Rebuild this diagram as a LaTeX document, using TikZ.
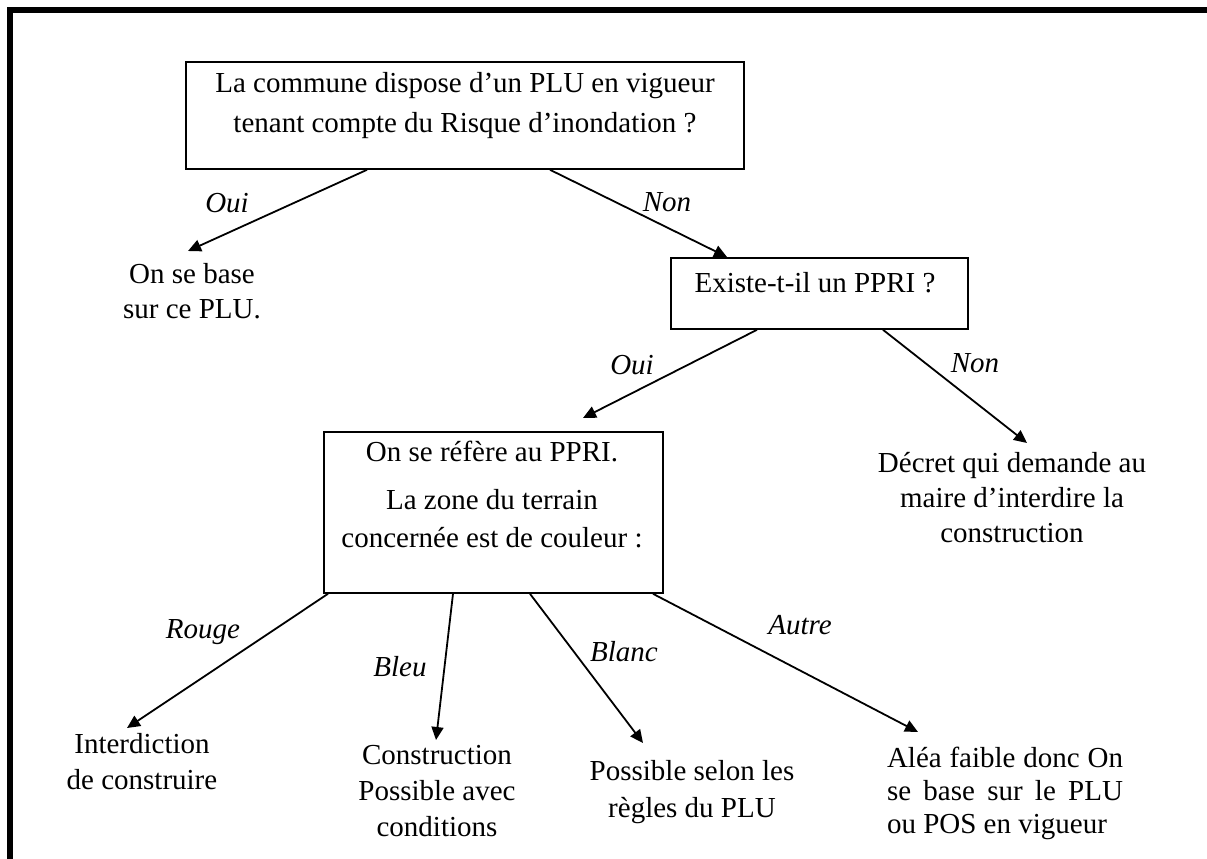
\documentclass[tikz,border=0pt]{standalone}
\usepackage{fontspec}
\setmainfont{Liberation Serif}
\usetikzlibrary{arrows.meta,calc}
\tikzset{
  box/.style={draw, line width=1.8pt, inner sep=0pt, anchor=north west},
  txt/.style={inner sep=0pt, anchor=north, align=center, font=\fontsize{29pt}{#1pt}\selectfont},
  txt/.default=35,
  lab/.style={inner sep=0pt, anchor=base, font=\fontsize{29pt}{34pt}\selectfont\itshape},
  arr/.style={line width=1.8pt, -{Triangle[length=13pt,width=12pt]}},
  frame/.style={line width=6pt}
}
\begin{document}
\begin{tikzpicture}[x=1pt,y=-1pt]
\useasboundingbox (0,0) rectangle (1207,859);
\draw[frame] (10,859) -- (10,10) -- (1207,10);

% boxes
\node[box, minimum width=558pt, minimum height=107pt] (b1) at (185,61) {};
\node[txt=40] (t1) at (465,72) {La commune dispose d’un PLU en vigueur\\tenant compte du Risque d’inondation ?};

\node[box, minimum width=297pt, minimum height=71pt] (b2) at (670,257) {};
\node[lab, font=\fontsize{29pt}{34pt}\selectfont] (t2) at (815,292.5) {Existe-t-il un PPRI ?};

\node[box, minimum width=339pt, minimum height=161pt] (b3) at (323,431) {};
\node[txt=38] (t3) at (492,441) {On se réfère au PPRI.\\[10pt]La zone du terrain\\concernée est de couleur :};

% leaves
\node[txt=35] (l1) at (192,263) {On se base\\sur ce PLU.};
\node[txt=35] (l2) at (1012,452) {Décret qui demande au\\maire d’interdire la\\construction};
\node[txt=36] (l3) at (142,733) {Interdiction\\de construire};
\node[txt=36] (l4) at (437,745) {Construction\\Possible avec\\conditions};
\node[txt=37] (l5) at (692,760) {Possible selon les\\règles du PLU};
\node[txt=33, text width=236pt, align=justify] (l6) at (1005,747) {\noindent Aléa faible donc On\linebreak se base sur le PLU\linebreak ou POS en vigueur};

% connectors
\draw[arr] ($(b1.south west)+(182,0)$) -- ($(l1.north)+(-4,-12)$);
\draw[arr] ($(b1.south west)+(365,0)$) -- ($(b2.north west)+(57,0)$);
\draw[arr] ($(b2.south west)+(87,0)$) -- ($(b3.north west)+(260,-13)$);
\draw[arr] ($(b2.south west)+(213,0)$) -- ($(l2.north)+(15,-9)$);
\draw[arr] ($(b3.south west)+(5,0)$) -- ($(l3.north)+(-15,-5)$);
\draw[arr] ($(b3.south west)+(130,0)$) -- ($(l4.north)+(-1,-5)$);
\draw[arr] ($(b3.south west)+(207,0)$) -- ($(l5.north)+(-49,-17)$);
\draw[arr] ($(b3.south west)+(330,0)$) -- ($(l6.north)+(-87,-15)$);

% labels
\node[lab] (oui1) at (227,212) {Oui};
\node[lab] (non1) at (667,211) {Non};
\node[lab] (oui2) at (632,374) {Oui};
\node[lab] (non2) at (975,372) {Non};
\node[lab] (rouge) at (203,638) {Rouge};
\node[lab] (bleu) at (400,676) {Bleu};
\node[lab] (blanc) at (624,661) {Blanc};
\node[lab] (autre) at (800,634) {Autre};
\end{tikzpicture}
\end{document}
